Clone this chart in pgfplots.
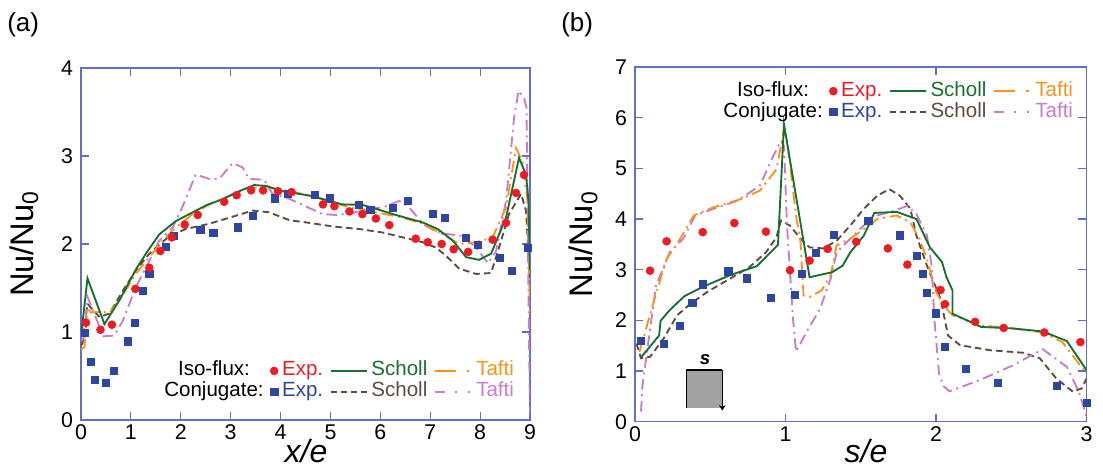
\documentclass[border=0pt]{standalone}
\usepackage{fontspec}
\setmainfont{Liberation Sans}
\usepackage{pgfplots}
\pgfplotsset{compat=1.18}
\usetikzlibrary{arrows.meta}

\definecolor{cRed}{RGB}{237,28,36}
\definecolor{cBlue}{RGB}{46,70,160}
\definecolor{cGreen}{RGB}{25,110,50}
\definecolor{cOrange}{RGB}{247,148,30}
\definecolor{cBrown}{RGB}{95,75,65}
\definecolor{cPink}{RGB}{200,125,200}
\definecolor{cAxis}{RGB}{100,110,200}

\pgfplotsset{
  legmark/.style={legend image code/.code={\draw[##1] plot coordinates {(0pt,0pt)};}},
  legsolid/.style={legend image code/.code={\draw[##1] (0pt,0pt) -- (27pt,0pt);}},
  legorange/.style={legend image code/.code={\draw[##1, dash pattern=on 16pt off 8pt on 2pt off 4pt] (0pt,0pt) -- (27pt,0pt);}},
  legbrown/.style={legend image code/.code={\draw[##1, dash pattern=on 5pt off 2.5pt] (0pt,0pt) -- (27pt,0pt);}},
  legpink/.style={legend image code/.code={\draw[##1, dash pattern=on 7.5pt off 7.5pt on 1.8pt off 8pt on 1.8pt off 3pt] (0pt,0pt) -- (27.5pt,0pt);}},
  sRed/.style={only marks, mark=*, mark size=3pt, color=cRed, mark options={fill=cRed, draw=cRed}},
  sBlue/.style={only marks, mark=square*, mark size=2.7pt, color=cBlue, mark options={fill=cBlue, draw=cBlue}},
  sGreen/.style={no marks, cGreen, line width=1.4pt},
  sOrange/.style={no marks, cOrange, line width=1.4pt, dash pattern=on 9pt off 3.5pt on 1.5pt off 3.5pt},
  sBrown/.style={no marks, cBrown, line width=1.4pt, dash pattern=on 5pt off 3pt},
  sPink/.style={no marks, cPink, line width=1.4pt, dash pattern=on 8pt off 3.5pt on 1.5pt off 3.5pt},
  panel/.style={
    scale only axis, anchor=south west,
    axis line style={cAxis, line width=1.1pt},
    every tick/.style={cAxis, line width=0.9pt},
    major tick length=6pt, tick align=inside,
    ticklabel style={font=\fontsize{16}{18}\selectfont},
    yticklabel style={xshift=-2.5pt},
    /pgf/number format/assume math mode=true,
    legend style={draw=none, fill=none, inner sep=0pt,
      font=\fontsize{15.4}{17}\selectfont,
      legend columns=4, legend cell align=center,
      nodes={inner sep=0.4pt, text height=11.2pt, text depth=3.6pt},
      /tikz/every odd column/.append style={column sep=2.5pt},
      /tikz/every even column/.append style={column sep=4.5pt}},
  },
}

\newcommand{\mylegend}{%
  \addlegendimage{empty legend}\addlegendentry{Iso-flux:}
  \addlegendimage{sRed, legmark}\addlegendentry{\textcolor{cRed}{Exp.}}
  \addlegendimage{sGreen, legsolid}\addlegendentry{\textcolor{cGreen}{Scholl}}
  \addlegendimage{no marks, cOrange, line width=1.4pt, legorange}\addlegendentry{\textcolor{cOrange}{Tafti}}
  \addlegendimage{empty legend}\addlegendentry{Conjugate:}
  \addlegendimage{sBlue, legmark}\addlegendentry{\textcolor{cBlue}{Exp.}}
  \addlegendimage{no marks, cBrown, line width=1.4pt, legbrown}\addlegendentry{\textcolor{cBrown}{Scholl}}
  \addlegendimage{no marks, cPink, line width=1.4pt, legpink}\addlegendentry{\textcolor{cPink}{Tafti}}
}

\begin{document}
\begin{tikzpicture}
% ---------------- panel (a) ----------------
\begin{axis}[panel,
  at={(60.75pt,38.25pt)},
  width=336.75pt, height=264pt,
  xmin=0, xmax=9, ymin=0, ymax=4,
  xtick={0,1,...,9}, ytick={0,1,...,4},
  legend style={at={(0.966,0.05)}, anchor=south east},
]
\addplot[sBrown, forget plot] coordinates {
(0.00,0.85) (0.03,0.87) (0.13,1.32) (0.37,1.17) (0.57,1.21) (0.84,1.47) (1.10,1.70) (1.37,1.89) (1.77,2.09) (2.10,2.17) (2.57,2.23) (3.04,2.31) (3.44,2.38) (3.77,2.36) (4.18,2.27) (4.58,2.24) (5.04,2.20) (5.58,2.17) (6.05,2.13) (6.45,2.075) (6.85,2.02) (7.11,1.96) (7.31,1.87) (7.58,1.72) (7.92,1.66) (8.22,1.67) (8.38,1.96) (8.58,2.34) (8.82,2.57) (8.92,2.38) (9.00,1.62)};
\addplot[sPink, forget plot] coordinates {
(0.00,0.90) (0.07,0.94) (0.13,1.40) (0.37,1.06) (0.43,0.95) (0.67,0.96) (0.84,1.13) (1.10,1.51) (1.37,1.81) (1.57,2.04) (1.84,2.19) (2.04,2.43) (2.30,2.79) (2.57,2.74) (2.77,2.74) (3.04,2.92) (3.24,2.87) (3.37,2.74) (3.67,2.73) (3.84,2.57) (4.11,2.53) (4.44,2.445) (4.84,2.34) (5.11,2.33) (5.44,2.35) (5.71,2.40) (6.05,2.415) (6.38,2.49) (6.58,2.415) (6.85,2.23) (7.11,2.14) (7.38,2.11) (7.65,2.09) (7.92,1.96) (8.16,1.78) (8.32,1.92) (8.52,2.49) (8.68,3.43) (8.77,3.74) (8.88,3.66) (8.93,3.55) (8.97,1.43) (9.00,0.08)};
\addplot[sOrange, forget plot] coordinates {
(0.00,0.80) (0.07,0.83) (0.13,1.28) (0.20,1.22) (0.37,1.23) (0.57,1.22) (0.77,1.36) (1.10,1.66) (1.37,1.85) (1.64,2.04) (1.90,2.19) (2.24,2.34) (2.57,2.45) (2.91,2.53) (3.37,2.64) (3.77,2.64) (4.18,2.60) (4.58,2.55) (4.98,2.49) (5.38,2.415) (5.91,2.36) (6.45,2.30) (6.85,2.23) (7.25,2.11) (7.58,2.00) (7.92,2.02) (8.25,2.075) (8.52,2.415) (8.72,3.09) (8.85,2.94) (8.95,2.49) (9.00,1.21)};
\addplot[sGreen, forget plot] coordinates {
(0.00,1.00) (0.02,1.05) (0.13,1.61) (0.47,1.09) (0.77,1.36) (1.10,1.71) (1.30,1.89) (1.57,2.11) (1.90,2.26) (2.24,2.36) (2.51,2.44) (2.84,2.51) (3.17,2.60) (3.47,2.67) (3.71,2.66) (4.04,2.60) (4.58,2.55) (4.98,2.49) (5.24,2.45) (5.64,2.445) (5.91,2.40) (6.31,2.33) (6.85,2.245) (7.15,2.17) (7.45,2.04) (7.72,1.85) (7.98,1.82) (8.22,1.89) (8.52,2.30) (8.78,2.98) (8.92,2.79) (8.97,2.49) (9.00,1.70)};
\addplot[sBlue, forget plot] coordinates {
(0.08,0.99) (0.19,0.66) (0.27,0.46) (0.49,0.42) (0.66,0.555) (0.94,0.894) (1.08,1.106) (1.24,1.47) (1.37,1.66) (1.70,1.97) (1.86,2.09) (2.39,2.16) (2.65,2.13) (3.14,2.19) (3.45,2.32) (3.89,2.52) (4.14,2.57) (4.69,2.555) (4.99,2.52) (5.56,2.45) (5.80,2.39) (6.25,2.41) (6.55,2.49) (7.05,2.34) (7.29,2.30) (7.72,2.07) (7.96,1.99) (8.40,1.84) (8.64,1.70) (8.96,1.955)};
\addplot[sRed, forget plot] coordinates {
(0.10,1.106) (0.39,1.026) (0.62,1.083) (1.09,1.49) (1.37,1.73) (1.59,1.92) (1.82,2.075) (2.08,2.22) (2.34,2.33) (2.87,2.48) (3.12,2.555) (3.41,2.61) (3.65,2.61) (3.95,2.60) (4.22,2.59) (4.85,2.45) (5.08,2.43) (5.38,2.37) (5.64,2.34) (5.91,2.29) (6.18,2.215) (6.71,2.06) (6.95,2.02) (7.23,2.00) (7.47,1.94) (7.76,1.91) (8.25,2.05) (8.52,2.24) (8.72,2.58) (8.88,2.785)};
\mylegend
\end{axis}

% ---------------- panel (b) ----------------
\begin{axis}[panel,
  at={(476.25pt,37pt)},
  width=338.6pt, height=266pt,
  xmin=0, xmax=3, ymin=0, ymax=7,
  xtick={0,1,2,3}, ytick={0,1,...,7},
  legend style={at={(0.972,0.962)}, anchor=north east},
]
\addplot[sBrown, forget plot] coordinates {
(0.01,1.54) (0.04,1.25) (0.10,1.28) (0.19,1.64) (0.28,2.10) (0.37,2.33) (0.48,2.56) (0.63,2.82) (0.76,3.05) (0.87,3.34) (0.94,3.64) (0.97,3.97) (1.03,3.87) (1.10,3.61) (1.16,3.44) (1.25,3.42) (1.34,3.57) (1.43,3.87) (1.52,4.20) (1.61,4.46) (1.69,4.59) (1.76,4.46) (1.83,4.20) (1.87,3.67) (1.94,3.08) (2.03,2.43) (2.08,1.70) (2.16,1.51) (2.36,1.41) (2.58,1.36) (2.69,1.25) (2.80,0.85) (2.91,0.59) (2.97,0.66) (3.00,0.85)};
\addplot[sPink, forget plot] coordinates {
(0.04,0.20) (0.05,0.72) (0.14,2.69) (0.23,3.34) (0.32,3.61) (0.40,4.07) (0.52,4.20) (0.68,4.36) (0.83,4.66) (0.92,5.25) (0.97,5.54) (0.99,5.44) (1.01,3.87) (1.05,2.03) (1.07,1.38) (1.14,1.77) (1.23,2.23) (1.30,2.82) (1.34,3.34) (1.43,3.61) (1.52,3.87) (1.61,4.07) (1.72,4.16) (1.81,4.26) (1.87,4.10) (1.94,3.67) (1.97,3.10) (1.99,2.00) (2.02,0.95) (2.05,0.70) (2.09,0.60) (2.29,0.82) (2.51,1.11) (2.71,1.43) (2.87,1.08) (2.95,0.59) (3.00,0.10)};
\addplot[sOrange, forget plot] coordinates {
(0.03,1.38) (0.13,2.43) (0.21,3.21) (0.30,3.61) (0.39,4.07) (0.52,4.23) (0.70,4.39) (0.83,4.56) (0.94,4.98) (0.99,5.77) (1.01,5.57) (1.07,4.07) (1.10,3.54) (1.12,2.49) (1.16,2.46) (1.24,2.59) (1.30,2.89) (1.34,3.48) (1.43,3.61) (1.52,3.80) (1.61,4.00) (1.74,4.07) (1.83,3.93) (1.89,3.61) (1.94,3.21) (2.00,2.56) (2.06,2.26) (2.11,2.10) (2.30,1.90) (2.51,1.84) (2.71,1.76) (2.84,1.57) (3.00,0.95)};
\addplot[sGreen, forget plot] coordinates {
(0.04,1.27) (0.16,1.70) (0.17,1.99) (0.23,2.20) (0.33,2.48) (0.45,2.66) (0.63,2.89) (0.81,3.07) (0.95,3.49) (0.99,5.87) (1.16,2.85) (1.31,2.95) (1.38,3.08) (1.43,3.34) (1.52,3.67) (1.59,4.12) (1.74,4.14) (1.87,4.00) (1.96,3.44) (2.04,3.15) (2.07,2.85) (2.11,2.59) (2.11,2.13) (2.30,1.87) (2.51,1.84) (2.71,1.78) (2.87,1.59) (3.00,1.02)};
\addplot[sBlue, forget plot] coordinates {
(0.04,1.59) (0.19,1.54) (0.30,1.89) (0.38,2.34) (0.45,2.71) (0.62,2.97) (0.74,2.83) (0.90,2.45) (1.06,2.50) (1.11,2.92) (1.20,3.34) (1.32,3.69) (1.55,3.97) (1.76,3.68) (1.87,3.28) (1.91,2.92) (1.94,2.55) (2.00,2.14) (2.06,1.48) (2.20,1.04) (2.41,0.76) (2.80,0.71) (3.00,0.38)};
\addplot[sRed, forget plot] coordinates {
(0.10,2.98) (0.21,3.56) (0.45,3.74) (0.66,3.92) (0.87,3.75) (1.03,2.99) (1.16,3.18) (1.28,3.41) (1.47,3.55) (1.68,3.42) (1.81,3.10) (2.03,2.60) (2.06,2.32) (2.26,1.97) (2.45,1.85) (2.72,1.76) (2.96,1.57)};
% inset sketch
\fill[black!37] (axis cs:0.343,0.27) rectangle (axis cs:0.58,1.02);
\draw[black, line width=1.1pt] (axis cs:0.343,0.27) -- (axis cs:0.343,1.02) -- (axis cs:0.58,1.02);
\draw[black, line width=1.1pt, -{Stealth[length=4pt,width=5pt]}] (axis cs:0.58,1.02) -- (axis cs:0.58,0.22);
\node[font=\bfseries\itshape\fontsize{14}{16}\selectfont] at (axis cs:0.465,1.22) {s};
\mylegend
\end{axis}

% labels
\node[anchor=base west, inner sep=0pt, font=\fontsize{19.5}{22}\selectfont] at (5.25pt,329.25pt) {(a)};
\node[anchor=base west, inner sep=0pt, font=\fontsize{19.5}{22}\selectfont] at (420.75pt,329.25pt) {(b)};
\node[rotate=90, font=\fontsize{24.5}{28}\selectfont] at (18pt,170.25pt) {Nu/Nu\textsubscript{0}};
\node[rotate=90, font=\fontsize{24.5}{28}\selectfont] at (437.3pt,169.9pt) {Nu/Nu\textsubscript{0}};
\node[anchor=base, inner sep=0pt, font=\itshape\fontsize{24}{28}\selectfont] at (229.5pt,6pt) {x/e};
\node[anchor=base, inner sep=0pt, font=\itshape\fontsize{24}{28}\selectfont] at (649.5pt,6pt) {s/e};

\pgfresetboundingbox
\path[use as bounding box] (0pt,0pt) rectangle (827.25pt,353.25pt);
\end{tikzpicture}
\end{document}
